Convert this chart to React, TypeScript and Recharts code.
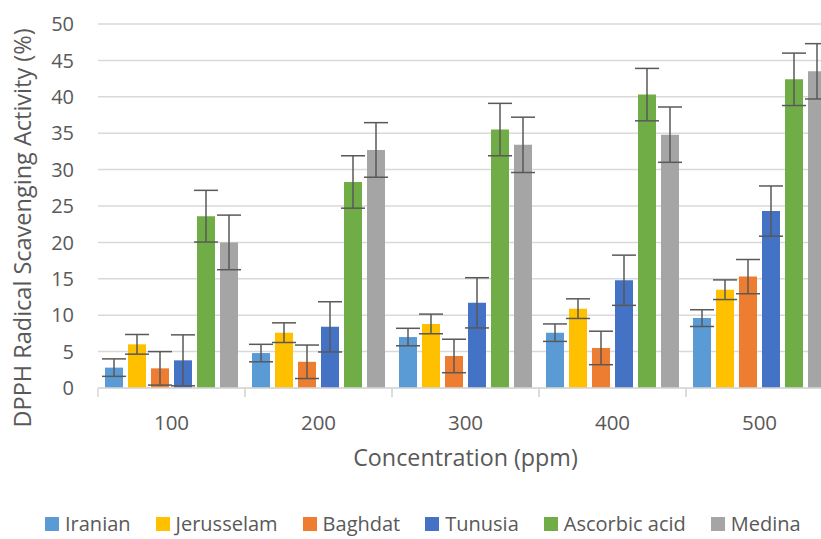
import React from 'react';
import { BarChart, Bar, XAxis, YAxis, CartesianGrid, ErrorBar } from 'recharts';

const categories = ['100', '200', '300', '400', '500'];

const seriesNames = ['Iranian', 'Jerusselam', 'Baghdat', 'Tunusia', 'Ascorbic acid', 'Medina'];
const seriesColors = ['#5B9BD5', '#FFC000', '#ED7D31', '#4472C4', '#70AD47', '#A5A5A5'];

// mean values
const iranian = [2.8, 4.8, 7.0, 7.6, 9.6];
const jerusselam = [6.0, 7.6, 8.8, 10.9, 13.5];
const baghdat = [2.7, 3.6, 4.4, 5.5, 15.3];
const tunusia = [3.8, 8.4, 11.7, 14.8, 24.3];
const ascorbic = [23.6, 28.3, 35.5, 40.3, 42.4];
const medina = [20.0, 32.7, 33.4, 34.8, 43.5];

// error bar half-lengths
const iranianErr = [1.2, 1.2, 1.2, 1.2, 1.15];
const jerusselamErr = [1.35, 1.35, 1.35, 1.35, 1.35];
const baghdatErr = [2.3, 2.3, 2.3, 2.3, 2.35];
const tunusiaErr = [3.5, 3.45, 3.45, 3.45, 3.45];
const ascorbicErr = [3.55, 3.6, 3.6, 3.6, 3.6];
const medinaErr = [3.75, 3.75, 3.8, 3.8, 3.8];

const yTicks = [0, 5, 10, 15, 20, 25, 30, 35, 40, 45, 50];

const values = [iranian, jerusselam, baghdat, tunusia, ascorbic, medina];
const errors = [iranianErr, jerusselamErr, baghdatErr, tunusiaErr, ascorbicErr, medinaErr];

const data = categories.map((c, i) => {
  const row: any = { conc: c };
  seriesNames.forEach((_, s) => {
    row[`s${s}`] = values[s][i];
    row[`e${s}`] = errors[s][i];
  });
  return row;
});

const TEXT = '#595959';
const GRID = '#d9d9d9';
const TICK_GAP = 27;

const CategoryTick = (props: any) => {
  const { x, y, payload } = props;
  const half = payload && payload.offset ? payload.offset : 73.5;
  const axisY = y - TICK_GAP;
  return (
    <g>
      <line x1={x - half} x2={x - half} y1={axisY} y2={axisY + 9} stroke={GRID} strokeWidth={1.5} />
      <line x1={x + half} x2={x + half} y1={axisY} y2={axisY + 9} stroke={GRID} strokeWidth={1.5} />
      <text x={x} y={y} dy="0.71em" textAnchor="middle" fill={TEXT} fontSize={20.5}>
        {payload.value}
      </text>
    </g>
  );
};

const YTitle = (props: any) => {
  const vb = props.viewBox || { x: 0, y: 24, width: 98, height: 364 };
  const cx = vb.x + 22;
  const cy = vb.y + vb.height / 2 + 22;
  return (
    <text
      x={cx}
      y={cy}
      transform={`rotate(-90 ${cx} ${cy})`}
      textAnchor="middle"
      dominantBaseline="central"
      fill={TEXT}
      fontSize={23.5}
    >
      DPPH Radical Scavenging Activity (%)
    </text>
  );
};

export default function App() {
  return (
    <div
      style={{
        position: 'absolute',
        left: 0,
        top: 0,
        width: 821,
        height: 539,
        overflow: 'hidden',
        background: '#fff',
        fontFamily: '"Open Sans", sans-serif',
      }}
    >
      <BarChart
        width={840}
        height={539}
        data={data}
        margin={{ top: 24, right: 7, left: 0, bottom: 61 }}
        barSize={18}
        barGap={5}
      >
        <CartesianGrid vertical={false} stroke={GRID} strokeWidth={1.5} />
        <XAxis
          dataKey="conc"
          height={90}
          interval={0}
          axisLine={{ stroke: GRID, strokeWidth: 1.5 }}
          tickLine={false}
          tickSize={0}
          tickMargin={TICK_GAP}
          tick={<CategoryTick />}
          label={{ value: 'Concentration (ppm)', position: 'insideBottom', offset: 12, fill: TEXT, fontSize: 23.3 }}
        />
        <YAxis
          width={98}
          domain={[0, 50]}
          ticks={yTicks}
          interval={0}
          axisLine={false}
          tickLine={false}
          tickSize={0}
          tickMargin={24}
          tick={{ fill: TEXT, fontSize: 20 }}
          label={{ content: <YTitle /> }}
        />
        {seriesNames.map((name, s) => (
          <Bar key={name} dataKey={`s${s}`} name={name} fill={seriesColors[s]} isAnimationActive={false}>
            <ErrorBar dataKey={`e${s}`} width={12} stroke={TEXT} strokeWidth={1.5} />
          </Bar>
        ))}
      </BarChart>
      <div
        style={{
          position: 'absolute',
          left: 45,
          top: 514,
          height: 20,
          display: 'flex',
          alignItems: 'center',
          gap: 25,
          fontSize: 20,
          lineHeight: '20px',
          color: TEXT,
          whiteSpace: 'nowrap',
        }}
      >
        {seriesNames.map((name, s) => (
          <div key={name} style={{ display: 'flex', alignItems: 'center' }}>
            <span style={{ width: 14, height: 14, background: seriesColors[s], marginRight: 6, display: 'inline-block' }} />
            <span style={{ lineHeight: '20px' }}>{name}</span>
          </div>
        ))}
      </div>
    </div>
  );
}
